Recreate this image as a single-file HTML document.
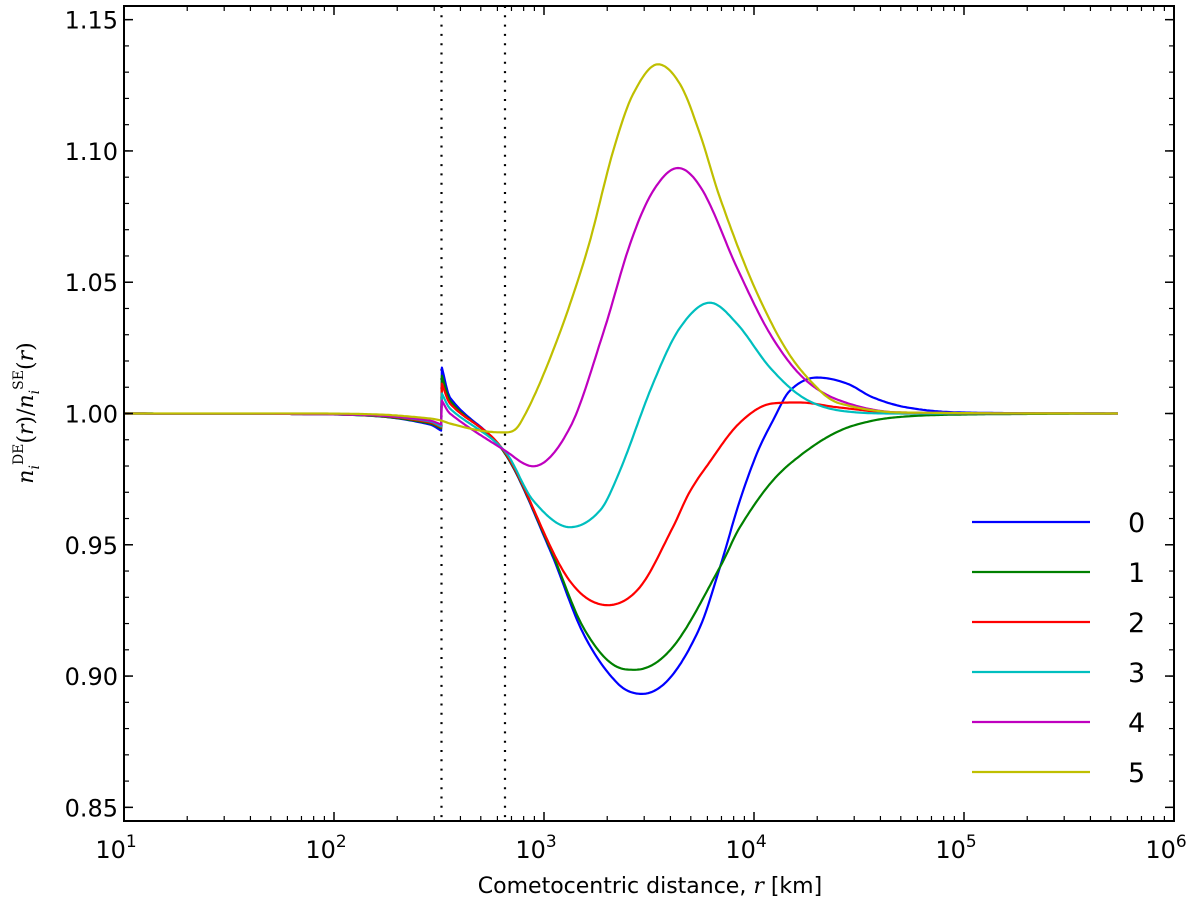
<!DOCTYPE html>
<html><head><meta charset="utf-8"><style>
html,body{margin:0;padding:0;background:#fff;}
svg{display:block;font-family:"DejaVu Sans","Liberation Sans",sans-serif;}
</style></head><body>
<svg id="chart" width="1200" height="908" viewBox="0 0 1200 908" xmlns="http://www.w3.org/2000/svg">
<g id="plot"></g>
<text x="650" y="893" font-size="22" text-anchor="middle">Cometocentric distance, <tspan font-family="'DejaVu Serif',serif" font-style="italic">r</tspan> [km]</text>
<text transform="translate(33,413) rotate(-90)" font-size="22" text-anchor="middle" font-family="'DejaVu Serif',serif"><tspan font-style="italic">n</tspan><tspan font-size="14" dy="6" font-style="italic">i</tspan><tspan font-size="14" dy="-16">DE</tspan><tspan dy="10">(</tspan><tspan font-style="italic">r</tspan>)/<tspan font-style="italic">n</tspan><tspan font-size="14" dy="6" font-style="italic">i</tspan><tspan font-size="14" dy="-16">SE</tspan><tspan dy="10">(</tspan><tspan font-style="italic">r</tspan>)</text>
</svg>
<script>
// log10(r [km]) positions and ratio values for each series
const seriesNames = ["0","1","2","3","4","5"];
const seriesColors = ["#0000ff","#008000","#ff0000","#00bfbf","#bf00bf","#bfbf00"];
const logR0 = [1.000,1.838,2.219,2.457,2.510,2.514,2.552,2.814,3.029,3.186,3.348,3.467,3.600,3.743,3.838,3.933,4.014,4.090,4.171,4.300,4.443,4.567,4.729,4.981,5.733];
const val0  = [1.0,0.9998,0.9989,0.9958,0.9935,1.0175,1.0061,0.9848,0.9479,0.9164,0.8974,0.8932,0.8993,0.9187,0.9415,0.9669,0.9848,0.9973,1.0087,1.0137,1.0114,1.0061,1.0023,1.0004,1.0];
const logR1 = [1.000,1.838,2.219,2.457,2.510,2.514,2.552,2.814,3.029,3.186,3.348,3.433,3.614,3.838,3.933,4.090,4.252,4.410,4.567,4.729,4.981,5.733];
const val1  = [1.0,0.9998,0.9989,0.9962,0.9943,1.0144,1.0049,0.9848,0.9487,0.9187,0.9035,0.9024,0.9111,0.9415,0.9567,0.9745,0.9859,0.9935,0.9973,0.9989,0.9996,1.0];
const logR2 = [1.000,1.838,2.219,2.457,2.510,2.514,2.552,2.814,3.110,3.305,3.457,3.614,3.690,3.771,3.929,4.086,4.214,4.405,4.724,5.733];
const val2  = [1.0,0.9998,0.9991,0.9966,0.9947,1.0114,1.0038,0.9852,0.9377,0.9270,0.9339,0.9567,0.9696,0.9795,0.9962,1.0038,1.0042,1.0023,1.0,1.0];
const logR3 = [1.000,1.838,2.219,2.457,2.510,2.514,2.552,2.814,2.948,3.124,3.267,3.362,3.519,3.648,3.790,3.919,4.076,4.233,4.410,4.695,5.733];
const val3  = [1.0,0.9998,0.9992,0.9970,0.9951,1.0076,1.0019,0.9856,0.9669,0.9567,0.9631,0.9783,1.0114,1.0327,1.0422,1.0342,1.0175,1.0061,1.0011,1.0,1.0];
const logR4 = [1.000,1.838,2.219,2.457,2.510,2.514,2.552,2.814,2.948,3.124,3.281,3.410,3.519,3.638,3.757,3.919,4.076,4.233,4.410,4.695,5.733];
const val4  = [1.0,0.9998,0.9992,0.9973,0.9958,1.0049,1.0,0.9859,0.9799,0.9947,1.0304,1.0646,1.0847,1.0935,1.0847,1.0555,1.0304,1.0137,1.0049,1.0004,1.0];
const logR5 = [1.000,1.838,2.219,2.457,2.510,2.552,2.695,2.814,2.886,3.043,3.205,3.329,3.424,3.543,3.648,3.743,3.838,3.995,4.157,4.314,4.410,4.695,5.733];
const val5  = [1.0,1.0,0.9996,0.9981,0.9973,0.9962,0.9935,0.9928,0.9962,1.0239,1.0619,1.0999,1.1216,1.1330,1.1254,1.1064,1.0821,1.0494,1.0239,1.0087,1.0038,1.0004,1.0];
const yTicks = [0.85,0.90,0.95,1.00,1.05,1.10,1.15];
const yTickLabels = ["0.85","0.90","0.95","1.00","1.05","1.10","1.15"];
const xDecades = [1,2,3,4,5,6];
const vLinesR = [325,652];

const allR=[logR0,logR1,logR2,logR3,logR4,logR5], allV=[val0,val1,val2,val3,val4,val5];
const L=124,R=1174,T=6,B=821, XMIN=1, XMAX=6, YMIN=0.8448, YMAX=1.1552;
const sx=l=>L+(l-XMIN)/(XMAX-XMIN)*(R-L);
const sy=v=>B-(v-YMIN)/(YMAX-YMIN)*(B-T);
const NS="http://www.w3.org/2000/svg";
const g=document.getElementById('plot');
function mk(tag,attrs,parent){const e=document.createElementNS(NS,tag);for(const k in attrs)e.setAttribute(k,attrs[k]);(parent||g).appendChild(e);return e;}

// smooth cubic Hermite interpolation (centered tangents, clamped to avoid overshoot)
function smooth(xs,ys){const n=xs.length,d=[],m=new Array(n);
 for(let i=0;i<n-1;i++)d.push((ys[i+1]-ys[i])/(xs[i+1]-xs[i]));
 const jump=i=>(xs[i+1]-xs[i])<0.01;
 m[0]=d[0];m[n-1]=d[n-2];
 for(let i=1;i<n-1;i++){
  if(jump(i-1)){m[i]=d[i];continue;}
  if(jump(i)){m[i]=d[i-1];continue;}
  if(d[i-1]*d[i]<=0){m[i]=0;continue;}
  m[i]=(ys[i+1]-ys[i-1])/(xs[i+1]-xs[i-1]);}
 for(let i=0;i<n-1;i++){ if(jump(i))continue;
  if(d[i]===0){m[i]=0;m[i+1]=0;continue;}
  const a=m[i]/d[i],b=m[i+1]/d[i],s=a*a+b*b;
  if(s>9){const t=3/Math.sqrt(s);m[i]=t*a*d[i];m[i+1]=t*b*d[i];}}
 const pts=[];
 for(let i=0;i<n-1;i++){const h=xs[i+1]-xs[i];
  if(jump(i)){pts.push([sx(xs[i]),sy(ys[i])]);continue;}
  const N=Math.max(2,Math.ceil((sx(xs[i+1])-sx(xs[i]))/2));
  for(let k=0;k<N;k++){const t=k/N,t2=t*t,t3=t2*t;
   const y=(2*t3-3*t2+1)*ys[i]+(t3-2*t2+t)*h*m[i]+(-2*t3+3*t2)*ys[i+1]+(t3-t2)*h*m[i+1];
   pts.push([sx(xs[i]+t*h),sy(y)]);}}
 pts.push([sx(xs[n-1]),sy(ys[n-1])]);return pts;}

// vertical dotted lines
vLinesR.forEach((r,i)=>{const x=sx(Math.log10(r));
 const l=mk('line',{x1:x,x2:x,y1:T,y2:B,stroke:'#000','stroke-width':2.2,'stroke-dasharray':'2 7.3'});
 
 });

// series
allR.forEach((xs,i)=>{const p=smooth(xs,allV[i]);
 const path=mk('path',{d:'M'+p.map(q=>q[0].toFixed(1)+','+q[1].toFixed(1)).join('L'),fill:'none',stroke:seriesColors[i],'stroke-width':2.2,'stroke-linejoin':'round'});
 
 });

// axes frame
const frame=mk('rect',{x:L,y:T,width:R-L,height:B-T,fill:'none',stroke:'#000','stroke-width':2});



// y ticks
yTicks.forEach((v,i)=>{const y=sy(v);
 mk('line',{x1:L,x2:L+9,y1:y,y2:y,stroke:'#000','stroke-width':1.5});
 mk('line',{x1:R,x2:R-9,y1:y,y2:y,stroke:'#000','stroke-width':1.5});
 const t=mk('text',{x:L-6,y:y+9,'font-size':24,'text-anchor':'end'});t.textContent=yTickLabels[i];
 
 });
for(let v=0.85;v<1.155;v+=0.01){const y=sy(v);
 mk('line',{x1:L,x2:L+5,y1:y,y2:y,stroke:'#000','stroke-width':1.2});
 mk('line',{x1:R,x2:R-5,y1:y,y2:y,stroke:'#000','stroke-width':1.2});}

// x ticks
xDecades.forEach(d=>{const x=sx(d);
 mk('line',{x1:x,x2:x,y1:B,y2:B-9,stroke:'#000','stroke-width':1.5});
 mk('line',{x1:x,x2:x,y1:T,y2:T+9,stroke:'#000','stroke-width':1.5});
 const t=mk('text',{x:x-8,y:B+37,'font-size':24,'text-anchor':'middle'});
 t.appendChild(document.createTextNode('10'));
 const s=mk('tspan',{dy:-11,'font-size':17},t);s.textContent=String(d);
 
 
 if(d<6)for(let k=2;k<10;k++){const xm=sx(d+Math.log10(k));
  mk('line',{x1:xm,x2:xm,y1:B,y2:B-5,stroke:'#000','stroke-width':1.2});
  mk('line',{x1:xm,x2:xm,y1:T,y2:T+5,stroke:'#000','stroke-width':1.2});}});

// legend
const lg=mk('g',{});


seriesNames.forEach((n,i)=>{const y=522+i*50;
 const e=mk('g',{},lg);
 
 
 mk('line',{x1:972,x2:1090,y1:y,y2:y,stroke:seriesColors[i],'stroke-width':2.2},e);
 const t=mk('text',{x:1128,y:y+10,'font-size':27},e);t.textContent=n;});
</script>
</body></html>
